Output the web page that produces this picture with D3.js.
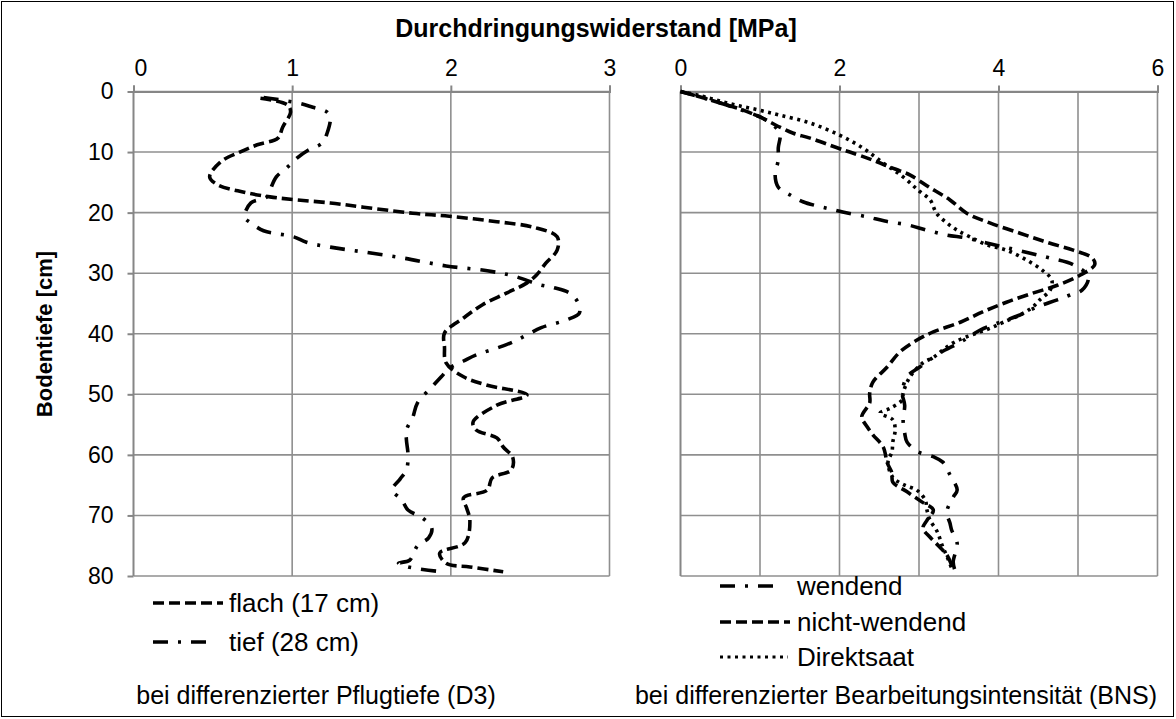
<!DOCTYPE html>
<html><head><meta charset="utf-8">
<script src="https://cdn.jsdelivr.net/npm/d3@7"></script>
<style>
body{margin:0;background:#fff}
svg{display:block}
text{font-family:"Liberation Sans",Arial,sans-serif;fill:#000}
</style>
</head><body>
<svg id="c" width="1176" height="719"></svg>
<script>
// ---------- data ----------
const depthTicks = [0,10,20,30,40,50,60,70,80];
const leftTicks  = [0,1,2,3];
const rightTicks = [0,2,4,6];
const rightGrid  = [1,2,3,4,5,6];
const leftGrid   = [1,2,3];

const flachDepth = [1.1,2.2,3.4,5.9,7.7,8.8,10.0,11.6,14.1,15.4,16.6,17.4,17.9,18.4,19.1,20.1,20.6,21.5,22.4,24.0,26.2,28.3,30.3,31.6,33.3,35.2,37.4,39.9,42.2,44.8,47.1,48.5,50.1,51.8,54.6,55.9,57.2,58.7,60.4,62.5,63.8,65.8,67.1,68.8,70.8,74.5,76.2,77.9,78.5,79.3];
const flachValue = [0.80,0.97,0.99,0.94,0.91,0.78,0.67,0.55,0.48,0.53,0.69,0.86,1.03,1.24,1.45,1.76,1.99,2.29,2.52,2.67,2.67,2.60,2.54,2.48,2.35,2.20,2.08,1.96,1.96,1.97,2.08,2.23,2.48,2.29,2.14,2.16,2.29,2.33,2.39,2.38,2.26,2.23,2.08,2.10,2.12,2.09,1.93,1.97,2.12,2.33];

const tiefDepth = [1.0,1.9,2.6,3.4,4.4,6.9,8.5,9.7,11.0,12.5,14.1,16.3,17.4,18.4,20.7,21.7,23.0,23.5,24.0,24.9,25.7,26.5,27.5,28.8,29.6,30.5,31.9,32.4,33.3,34.8,36.6,37.7,39.0,41.0,42.0,43.5,44.5,45.7,47.1,48.8,51.4,53.8,55.9,57.5,60.0,62.5,64.0,65.8,67.4,69.1,70.4,72.1,73.7,75.0,77.4,77.9,78.5,79.2];
const tiefValue = [0.82,1.04,1.13,1.22,1.24,1.22,1.19,1.10,1.03,0.97,0.90,0.86,0.84,0.74,0.70,0.74,0.82,0.91,1.01,1.09,1.24,1.45,1.70,1.97,2.23,2.40,2.56,2.65,2.75,2.80,2.81,2.73,2.57,2.42,2.33,2.16,2.08,1.99,1.94,1.88,1.79,1.76,1.72,1.72,1.73,1.72,1.68,1.63,1.69,1.73,1.82,1.88,1.86,1.79,1.74,1.67,1.73,1.91];

const wendDepth = [0,1.9,4.2,5.2,6.9,9.3,11.3,13.8,15.8,17.1,18.2,18.9,19.4,19.9,20.7,21.4,22.0,22.9,23.7,24.2,25.0,25.8,26.7,27.5,28.6,30.6,32.8,33.6,34.4,35.6,36.9,38.1,39.4,41.4,43.2,45.5,47.1,49.8,51.8,54.2,56.4,57.9,59.5,60.3,61.2,63.3,65.8,67.0,69.4,71.3,72.4,74.6,77.7,79.0];
const wendValue = [0,0.50,1.00,1.13,1.25,1.23,1.23,1.19,1.23,1.38,1.54,1.72,1.88,2.04,2.35,2.57,2.85,3.10,3.35,3.60,3.85,4.11,4.40,4.65,4.94,5.13,5.05,4.90,4.74,4.48,4.27,4.02,3.77,3.52,3.26,3.01,2.85,2.79,2.82,2.80,2.82,2.85,2.99,3.18,3.30,3.39,3.48,3.43,3.35,3.39,3.41,3.48,3.43,3.45];

const nichtDepth = [0,0.9,1.9,2.9,4.2,5.9,6.9,7.7,9.3,10.0,11.0,11.6,12.5,13.1,13.8,15.9,17.9,20.1,21.7,23.4,24.9,26.2,27.5,28.6,30.3,32.0,33.3,34.8,36.4,38.1,39.7,41.0,43.0,45.5,48.0,49.8,51.4,53.7,55.4,56.7,58.7,61.3,63.0,64.5,66.1,67.8,69.1,70.8,72.1,73.6,75.2,76.5,78.2];
const nichtValue = [0,0.25,0.50,0.75,1.00,1.25,1.42,1.63,1.97,2.13,2.35,2.47,2.64,2.76,2.89,3.14,3.39,3.60,3.89,4.27,4.61,4.94,5.18,5.21,5.03,4.74,4.43,4.10,3.80,3.52,3.18,2.98,2.76,2.60,2.42,2.38,2.38,2.28,2.35,2.42,2.55,2.60,2.66,2.67,2.85,3.04,3.18,3.10,3.05,3.14,3.26,3.35,3.41];

const direktDepth = [0,0.7,1.6,2.4,3.1,3.9,5.2,7.2,9.3,11.8,14.1,16.3,17.9,20.1,21.7,22.9,24.0,25.3,26.2,27.8,29.5,31.1,32.8,34.4,35.6,36.9,38.1,38.9,39.7,40.5,41.5,42.7,43.9,44.8,46.5,48.0,49.8,50.9,52.3,53.1,54.2,55.9,57.9,59.5,61.2,63.7,65.0,65.8,67.5,69.1,70.8,72.7,74.9,76.7,78.7];
const direktValue = [0,0.25,0.50,0.75,1.00,1.25,1.63,2.00,2.29,2.55,2.80,2.99,3.14,3.22,3.35,3.48,3.64,3.85,4.10,4.35,4.55,4.67,4.65,4.52,4.43,4.27,4.06,3.93,3.77,3.60,3.43,3.30,3.18,3.05,2.92,2.85,2.80,2.79,2.64,2.51,2.67,2.70,2.67,2.66,2.61,2.67,2.82,2.97,3.08,3.10,3.14,3.23,3.29,3.35,3.41];

const titleText = "Durchdringungswiderstand [MPa]";
const yTitleText = "Bodentiefe [cm]";
const leftLegend = ["flach (17 cm)", "tief (28 cm)"];
const rightLegend = ["wendend", "nicht-wendend", "Direktsaat"];
const leftCaption = "bei differenzierter Pflugtiefe (D3)";
const rightCaption = "bei differenzierter Bearbeitungsintensität (BNS)";

// ---------- styles ----------
const DASH = "11,5";
const DASHDOT = "15,10,3,10";
const DOT = "3,4.5";
const LW = 3.6;
const GRID = "#8f8f8f";
const FONT = '"Liberation Sans",Arial,sans-serif';

const svg = d3.select("#c");
svg.append("rect").attr("x",1.5).attr("y",1.5).attr("width",1172).attr("height",715)
  .attr("fill","#fff").attr("stroke","#000").attr("stroke-width",1);

const y = d3.scaleLinear().domain([0,80]).range([91.5,576]);
const xL = d3.scaleLinear().domain([0,3]).range([133.5,609.5]);
const xR = d3.scaleLinear().domain([0,6]).range([680.5,1157.5]);

function panel(x, grid, ticks, yLabels, firstShift){
  const g = svg.append("g");
  const [x0,x1] = x.range();
  g.selectAll(".h").data(depthTicks).join("line")
    .attr("x1",x0).attr("x2",x1).attr("y1",d=>y(d)).attr("y2",d=>y(d))
    .attr("stroke",GRID).attr("stroke-width",1.6);
  g.selectAll(".v").data(grid).join("line")
    .attr("x1",d=>x(d)).attr("x2",d=>x(d)).attr("y1",y(0)).attr("y2",y(80))
    .attr("stroke",GRID).attr("stroke-width",1.6);
  g.append("line").attr("x1",x0).attr("x2",x0).attr("y1",y(0)).attr("y2",y(80))
    .attr("stroke","#868686").attr("stroke-width",2);
  const ax = d3.axisTop(x).tickValues(ticks).tickSize(6).tickPadding(10).tickFormat(d3.format("d"));
  const a = g.append("g").attr("transform",`translate(0,${y(0)})`).call(ax);
  a.select(".domain").attr("stroke","#868686").attr("stroke-width",2);
  a.selectAll(".tick line").attr("stroke","#868686").attr("stroke-width",2);
  a.selectAll(".tick text").attr("font-size",23).attr("font-family",FONT).attr("fill","#000")
    .attr("dx",(d,i)=> i===0 ? firstShift : 0);
  if(yLabels){
    const ay = d3.axisLeft(y).tickValues(depthTicks).tickSize(6).tickPadding(14);
    const b = g.append("g").attr("transform",`translate(${x0},0)`).call(ay);
    b.select(".domain").remove();
    b.selectAll(".tick line").attr("stroke","#868686").attr("stroke-width",2);
    b.selectAll(".tick text").attr("font-size",23).attr("font-family",FONT).attr("fill","#000");
  }
}
panel(xL, leftGrid, leftTicks, true, 7);
panel(xR, rightGrid, rightTicks, false, 0);

function series(x, dep, val, dash){
  const pts = dep.map((d,i)=>[val[i], d]);
  const line = d3.line().x(p=>x(p[0])).y(p=>y(p[1])).curve(d3.curveCatmullRom.alpha(0.5));
  svg.append("path").attr("d",line(pts)).attr("fill","none").attr("stroke","#000")
    .attr("stroke-width",LW).attr("stroke-dasharray",dash);
}
series(xL, flachDepth, flachValue, DASH);
series(xL, tiefDepth, tiefValue, DASHDOT);
series(xR, wendDepth, wendValue, DASHDOT);
series(xR, nichtDepth, nichtValue, DASH);
series(xR, direktDepth, direktValue, DOT);

// titles
svg.append("text").attr("x",596).attr("y",37).attr("text-anchor","middle")
  .attr("font-size",25).attr("font-weight","bold").text(titleText);
svg.append("text").attr("transform","translate(52,334) rotate(-90)").attr("text-anchor","middle")
  .attr("font-size",22).attr("font-weight","bold").text(yTitleText);

// legends
const legL = [{t:leftLegend[0],d:DASH,y:603,len:70},{t:leftLegend[1],d:DASHDOT,y:642,len:56}];
legL.forEach(l=>{
  svg.append("line").attr("x1",153).attr("x2",153+l.len).attr("y1",l.y).attr("y2",l.y)
    .attr("stroke","#000").attr("stroke-width",LW).attr("stroke-dasharray",l.d);
  svg.append("text").attr("x",229).attr("y",l.y+9).attr("font-size",26).text(l.t);
});
const legR = [{t:rightLegend[0],d:DASHDOT,y:586,len:58},{t:rightLegend[1],d:DASH,y:622,len:70},{t:rightLegend[2],d:DOT,y:657,len:68}];
legR.forEach(l=>{
  svg.append("line").attr("x1",720).attr("x2",720+l.len).attr("y1",l.y).attr("y2",l.y)
    .attr("stroke","#000").attr("stroke-width",l.d===DOT?3:LW).attr("stroke-dasharray",l.d);
  svg.append("text").attr("x",797).attr("y",l.y+9).attr("font-size",26).text(l.t);
});

// captions
svg.append("text").attr("x",316).attr("y",704).attr("text-anchor","middle").attr("font-size",25).text(leftCaption);
svg.append("text").attr("x",1157).attr("y",704).attr("text-anchor","end").attr("font-size",25).text(rightCaption);
</script>
</body></html>
